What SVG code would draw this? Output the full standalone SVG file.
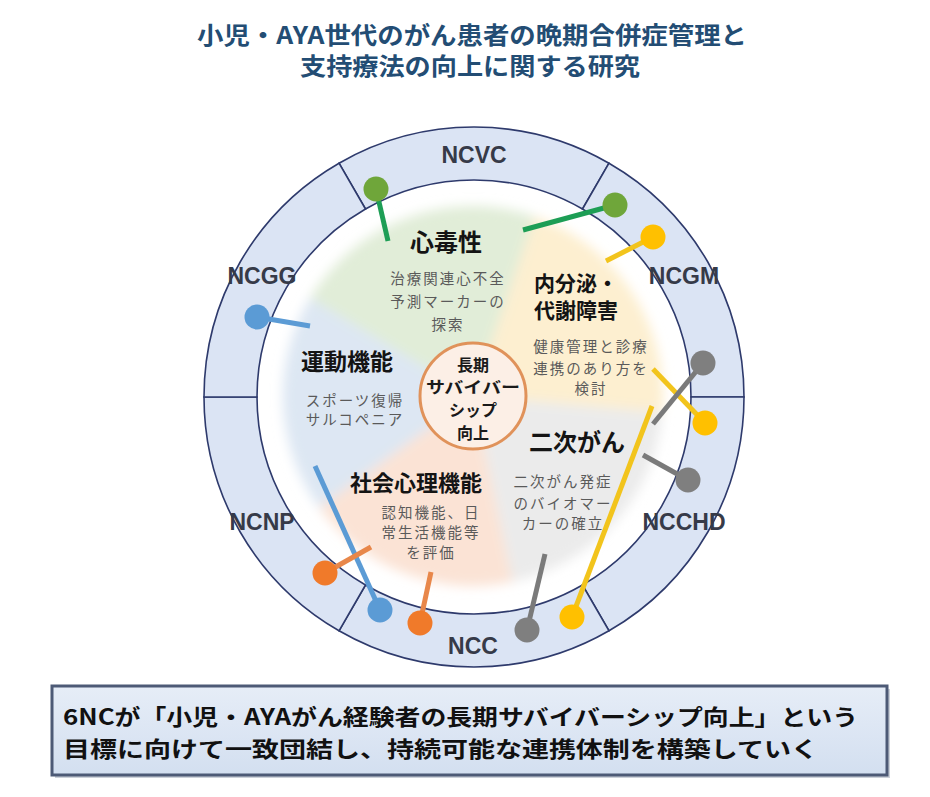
<svg xmlns="http://www.w3.org/2000/svg" width="930" height="797" viewBox="0 0 930 797">
<style>
.title{font-family:"Noto Sans CJK JP","Liberation Sans",sans-serif;font-weight:bold;font-size:24px;fill:#234d74;text-anchor:middle}
.ring{fill:#dbe4f4;stroke:#2e3a6c;stroke-width:1.6}
.rlabel{font-family:"Liberation Sans","Noto Sans CJK JP",sans-serif;font-weight:bold;font-size:23px;fill:#363a48;text-anchor:middle}
.head{font-family:"Noto Sans CJK JP",sans-serif;font-weight:bold;fill:#141414;text-anchor:middle}
.sub{font-family:"Noto Sans CJK JP",sans-serif;font-size:14.5px;fill:#5a5a5a;text-anchor:middle;letter-spacing:2px}
.ctr{font-family:"Noto Sans CJK JP",sans-serif;font-weight:bold;font-size:16px;fill:#1a1a1a;text-anchor:middle}
.bt{font-family:"Noto Sans CJK JP",sans-serif;font-weight:bold;font-size:22px;fill:#111}
.ln{stroke-width:5;stroke-linecap:butt;fill:none}
</style>
<defs>
<filter id="soft" x="-20%" y="-20%" width="140%" height="140%"><feGaussianBlur stdDeviation="6"/></filter>
<linearGradient id="boxg" x1="0" y1="0" x2="0" y2="1"><stop offset="0" stop-color="#e6edf7"/><stop offset="1" stop-color="#d3dff0"/></linearGradient>
</defs>
<rect width="930" height="797" fill="#ffffff"/>
<g id="title">
<text class="title" x="472" y="44" textLength="550" lengthAdjust="spacingAndGlyphs">小児・AYA世代のがん患者の晩期合併症管理と</text>
<text class="title" x="470" y="75" textLength="340" lengthAdjust="spacingAndGlyphs">支持療法の向上に関する研究</text>
</g>
<g id="ring">
<g id="NCVC"><path class="ring" d="M339 163.2 A270 270 0 0 1 609 163.2 L582.5 209 A217 217 0 0 0 365.5 209 Z"/><text class="rlabel" x="474" y="163">NCVC</text></g>
<g id="NCGM"><path class="ring" d="M609 163.2 A270 270 0 0 1 744 397 L691 397 A217 217 0 0 0 582.5 209 Z"/><text class="rlabel" x="684" y="284">NCGM</text></g>
<g id="NCCHD"><path class="ring" d="M744 397 A270 270 0 0 1 609 630.8 L582.5 585 A217 217 0 0 0 691 397 Z"/><text class="rlabel" x="684" y="530">NCCHD</text></g>
<g id="NCC"><path class="ring" d="M609 630.8 A270 270 0 0 1 339 630.8 L365.5 585 A217 217 0 0 0 582.5 585 Z"/><text class="rlabel" x="473" y="654">NCC</text></g>
<g id="NCNP"><path class="ring" d="M339 630.8 A270 270 0 0 1 204 397 L257 397 A217 217 0 0 0 365.5 585 Z"/><text class="rlabel" x="262" y="530">NCNP</text></g>
<g id="NCGG"><path class="ring" d="M204 397 A270 270 0 0 1 339 163.2 L365.5 209 A217 217 0 0 0 257 397 Z"/><text class="rlabel" x="262" y="284">NCGG</text></g>
</g>
<g id="sectors" filter="url(#soft)">
<path d="M473 396 L310.1 298.1 A190 190 0 0 1 534.9 216.4 Z" fill="#e1edd8"/>
<path d="M473 396 L534.9 216.4 A190 190 0 0 1 662.3 412.6 Z" fill="#fdefd0"/>
<path d="M473 396 L662.3 412.6 A190 190 0 0 1 512.5 581.8 Z" fill="#ebebeb"/>
<path d="M473 396 L512.5 581.8 A190 190 0 0 1 319.3 507.7 Z" fill="#fbe3d5"/>
<path d="M473 396 L319.3 507.7 A190 190 0 0 1 310.1 298.1 Z" fill="#dde7f3"/>
</g>
<g id="cardiotoxicity">
<text class="head" x="446" y="251" font-size="24">心毒性</text>
<text class="sub" x="448" y="284">治療関連心不全</text>
<text class="sub" x="448" y="307">予測マーカーの</text>
<text class="sub" x="448" y="330">探索</text>
</g>
<g id="endocrine">
<text class="head" x="576" y="291" font-size="21">内分泌・</text>
<text class="head" x="576" y="318" font-size="21">代謝障害</text>
<text class="sub" x="591" y="352">健康管理と診療</text>
<text class="sub" x="591" y="374">連携のあり方を</text>
<text class="sub" x="591" y="394">検討</text>
</g>
<g id="second-cancer">
<text class="head" x="577" y="451" font-size="24">二次がん</text>
<text class="sub" x="563" y="487">二次がん発症</text>
<text class="sub" x="563" y="509">のバイオマー</text>
<text class="sub" x="563" y="529">カーの確立</text>
</g>
<g id="psychosocial">
<text class="head" x="416" y="491" font-size="22">社会心理機能</text>
<text class="sub" x="431" y="518">認知機能、日</text>
<text class="sub" x="431" y="538">常生活機能等</text>
<text class="sub" x="431" y="558">を評価</text>
</g>
<g id="motor">
<text class="head" x="347" y="370" font-size="23">運動機能</text>
<text class="sub" x="355" y="406">スポーツ復帰</text>
<text class="sub" x="355" y="425">サルコペニア</text>
</g>
<g id="center">
<circle cx="473" cy="396" r="53" fill="#fcefe6" stroke="#e0925a" stroke-width="3"/>
<text class="ctr" x="473" y="371">長期</text>
<text class="ctr" x="473" y="393" textLength="94" lengthAdjust="spacingAndGlyphs">サバイバー</text>
<text class="ctr" x="473" y="416">シップ</text>
<text class="ctr" x="473" y="439">向上</text>
</g>
<g id="connectors">
<line class="ln" x1="376" y1="189" x2="388" y2="241" stroke="#1d9e55"/>
<circle cx="376" cy="189" r="12.5" fill="#6fa63a"/>
<line class="ln" x1="615" y1="205" x2="523" y2="230" stroke="#1d9e55"/>
<circle cx="615" cy="205" r="12.5" fill="#6fa63a"/>
<line class="ln" x1="653" y1="237" x2="606" y2="261" stroke="#f2c41c"/>
<circle cx="653" cy="237" r="12.5" fill="#ffc000"/>
<line class="ln" x1="705" y1="423" x2="653" y2="369" stroke="#f2c41c"/>
<circle cx="705" cy="423" r="12.5" fill="#ffc000"/>
<line class="ln" x1="703" y1="363" x2="653" y2="424" stroke="#7a7a7a"/>
<circle cx="703" cy="363" r="12.5" fill="#7f7f7f"/>
<line class="ln" x1="688" y1="480" x2="643" y2="455" stroke="#7a7a7a"/>
<circle cx="688" cy="480" r="12.5" fill="#7f7f7f"/>
<line class="ln" x1="572" y1="617" x2="652" y2="406" stroke="#f2c41c"/>
<circle cx="572" cy="617" r="12.5" fill="#ffc000"/>
<line class="ln" x1="527" y1="630" x2="545" y2="554" stroke="#7a7a7a"/>
<circle cx="527" cy="630" r="12.5" fill="#7f7f7f"/>
<line class="ln" x1="420" y1="623" x2="431" y2="572" stroke="#e8874a"/>
<circle cx="420" cy="623" r="12.5" fill="#f07a2a"/>
<line class="ln" x1="380" y1="610" x2="315" y2="466" stroke="#5b9bd5"/>
<circle cx="380" cy="610" r="12.5" fill="#5b9bd5"/>
<line class="ln" x1="325" y1="573" x2="371" y2="547" stroke="#e8874a"/>
<circle cx="325" cy="573" r="12.5" fill="#f07a2a"/>
<line class="ln" x1="257" y1="317" x2="310" y2="326" stroke="#5b9bd5"/>
<circle cx="257" cy="317" r="12.5" fill="#5b9bd5"/>
</g>
<g id="summary">
<rect x="55" y="689" width="835" height="89" fill="#9aa3b3" opacity="0.5"/>
<rect x="52" y="686" width="835" height="89" fill="url(#boxg)" stroke="#4d5a76" stroke-width="3"/>
<text class="bt" x="63" y="725" textLength="795" lengthAdjust="spacingAndGlyphs">6NCが「小児・AYAがん経験者の長期サバイバーシップ向上」という</text>
<text class="bt" x="63" y="757" textLength="755" lengthAdjust="spacingAndGlyphs">目標に向けて一致団結し、持続可能な連携体制を構築していく</text>
</g>
</svg>
